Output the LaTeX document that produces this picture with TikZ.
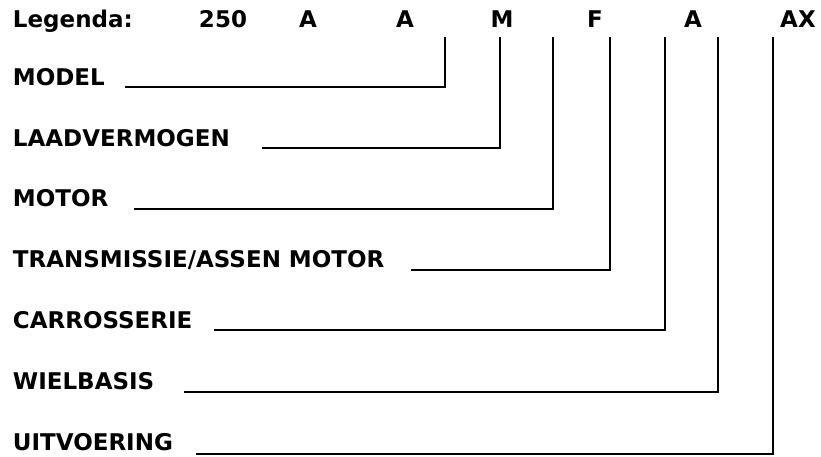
\documentclass[tikz,border=0pt]{standalone}
\usepackage{fontspec}
\setmainfont{DejaVu Sans}

\begin{document}
\begin{tikzpicture}[x=1pt,y=1pt,line width=1.9pt]
  \tikzstyle{every node}=[font=\bfseries\fontsize{23}{28}\selectfont,inner sep=0pt]
  \tikzstyle{code}=[anchor=base]
  \tikzstyle{part}=[anchor=base west]
  \useasboundingbox (0,0) rectangle (821,457);

  % top row
  \node[part] (legend) at (12,429) {Legenda:};
  \node[code] (c250) at (223,429) {250};
  \node[code] (ca1)  at (308,429) {A};
  \node[code] (ca2)  at (405,429) {A};
  \node[code] (cm)   at (502,429) {M};
  \node[code] (cf)   at (595,429) {F};
  \node[code] (ca3)  at (693,429) {A};
  \node[code] (cax)  at (798,429) {AX};

  % upper ends of the leaders
  \coordinate (t1) at (445,420);
  \coordinate (t2) at (500,420);
  \coordinate (t3) at (553,420);
  \coordinate (t4) at (610,420);
  \coordinate (t5) at (665,420);
  \coordinate (t6) at (718,420);
  \coordinate (t7) at (773,420);

  % parts
  \node[part] (model)  at (12,371) {MODEL};
  \node[part] (load)   at (12,310) {LAADVERMOGEN};
  \node[part] (motor)  at (12,250) {MOTOR};
  \node[part] (trans)  at (12,189) {TRANSMISSIE/ASSEN MOTOR};
  \node[part] (body)   at (12,128) {CARROSSERIE};
  \node[part] (wheel)  at (12,67)  {WIELBASIS};
  \node[part] (finish) at (12,6)   {UITVOERING};

  \draw ([xshift=19pt,yshift=-1pt]model.base east)  -| (t1);
  \draw ([xshift=31pt,yshift=-1pt]load.base east)   -| (t2);
  \draw ([xshift=25pt,yshift=-2pt]motor.base east)  -| (t3);
  \draw ([xshift=26pt,yshift=-2pt]trans.base east)  -| (t4);
  \draw ([xshift=21pt,yshift=-1pt]body.base east)   -| (t5);
  \draw ([xshift=29pt,yshift=-2pt]wheel.base east)  -| (t6);
  \draw ([xshift=22pt,yshift=-3pt]finish.base east) -| (t7);
\end{tikzpicture}
\end{document}
